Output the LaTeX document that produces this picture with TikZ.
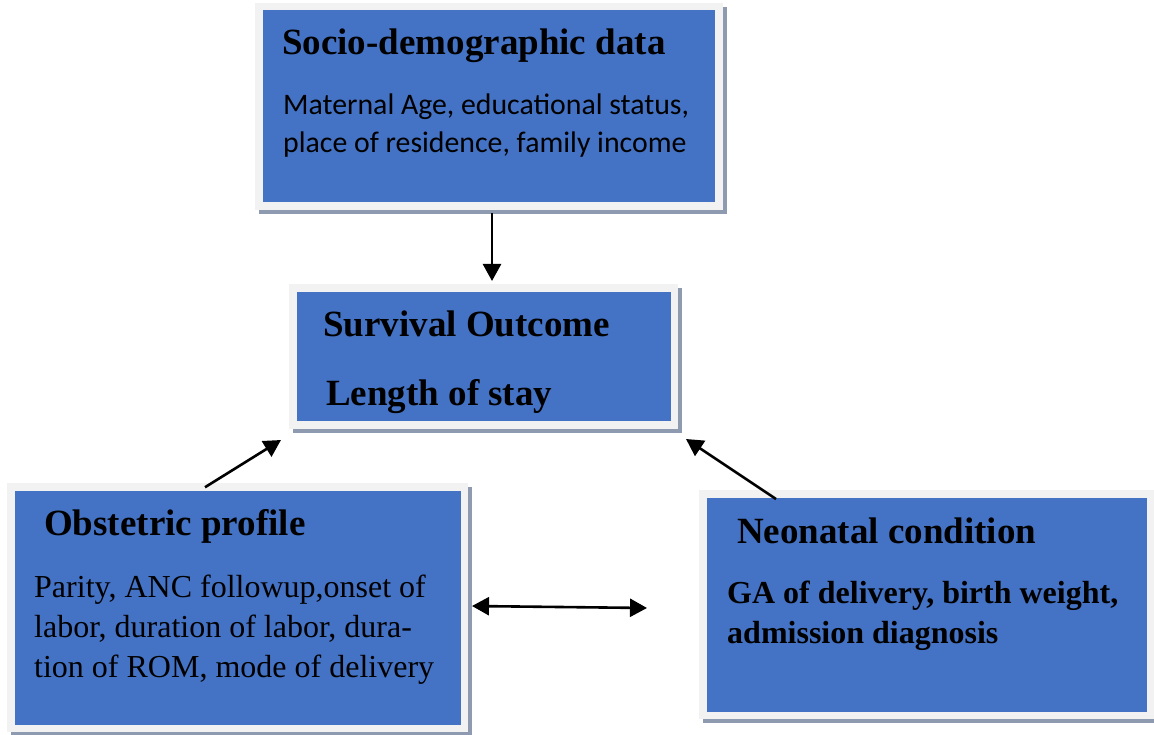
\documentclass[tikz,border=0pt]{standalone}
\usepackage{fontspec}
\setmainfont{Liberation Serif}
\newfontfamily\calibri{Carlito}
\usetikzlibrary{arrows.meta,shadows}
\definecolor{boxblue}{HTML}{4472C4}
\definecolor{rimgrey}{HTML}{F2F2F2}
\definecolor{shadowgrey}{HTML}{8E9AB0}
\tikzset{
  bluebox/.style={draw=rimgrey, fill=boxblue, line width=7.5pt, inner sep=0pt,
    drop shadow={shadow xshift=4pt, shadow yshift=-4pt, fill=shadowgrey, draw=shadowgrey, line width=7.5pt, opacity=1}},
  titletext/.style={anchor=base west, inner sep=0pt, font=\fontsize{37}{44}\selectfont\bfseries},
  bodyserif/.style={anchor=base west, inner sep=0pt, font=\fontsize{32}{40}\selectfont},
  bodybold/.style={anchor=base west, inner sep=0pt, font=\fontsize{32}{40}\selectfont\bfseries},
  bodysans/.style={anchor=base west, inner sep=0pt, font=\fontsize{29.8}{38}\selectfont\calibri},
  arr/.style={line width=2.6pt, -{Triangle[width=18pt,length=17pt]}},
  dblarr/.style={line width=2.6pt, {Triangle[width=18pt,length=17pt]}-{Triangle[width=18pt,length=17pt]}}
}
\begin{document}
\begin{tikzpicture}[x=1pt,y=-1pt]
\useasboundingbox[fill=white] (0,0) rectangle (1154,735);
% boxes
\node[bluebox, minimum width=460pt, minimum height=199.5pt] (socio) at (489,106.25) {};
\node[bluebox, minimum width=381.5pt, minimum height=137pt] (surv) at (483.75,356.5) {};
\node[bluebox, minimum width=453.5pt, minimum height=241.5pt] (obst) at (237.75,607.75) {};
\node[bluebox, minimum width=447.5pt, minimum height=221.5pt] (neo) at (926.75,604.75) {};
% texts
\node[titletext] (sociot) at (282,55) {Socio-demographic data};
\node[bodysans] (sociob1) at (283,115) {Maternal Age, educational status,};
\node[bodysans] (sociob2) at (283,153) {place of residence, family income};
\node[titletext] (survt1) at (323,337) {Survival Outcome};
\node[titletext] (survt2) at (326,405) {Length of stay};
\node[titletext] (obstt) at (44,535) {Obstetric profile};
\node[bodyserif] (obstb1) at (34,597) {Parity, ANC followup,onset of};
\node[bodyserif] (obstb2) at (34,637) {labor, duration of labor, dura-};
\node[bodyserif] (obstb3) at (34,677) {tion of ROM, mode of delivery};
\node[titletext] (neot) at (737,543) {Neonatal condition};
\node[bodybold] (neob1) at (727,603) {GA of delivery, birth weight,};
\node[bodybold] (neob2) at (727,643) {admission diagnosis};
% connectors
\draw[arr] ([shift={(3,3.25)}]socio.south) -- ([shift={(8.25,-3.25)}]surv.north);
\draw[arr] ([shift={(-32.75,4)}]obst.north) -- ([shift={(-8.25,11.25)}]surv.south west);
\draw[arr] ([shift={(76.75,8.75)}]neo.north west) -- ([shift={(7.75,10.25)}]surv.south east);
\draw[dblarr] ([shift={(3.75,-1.75)}]obst.east) -- ([shift={(-52.25,3.25)}]neo.west);
\end{tikzpicture}
\end{document}
